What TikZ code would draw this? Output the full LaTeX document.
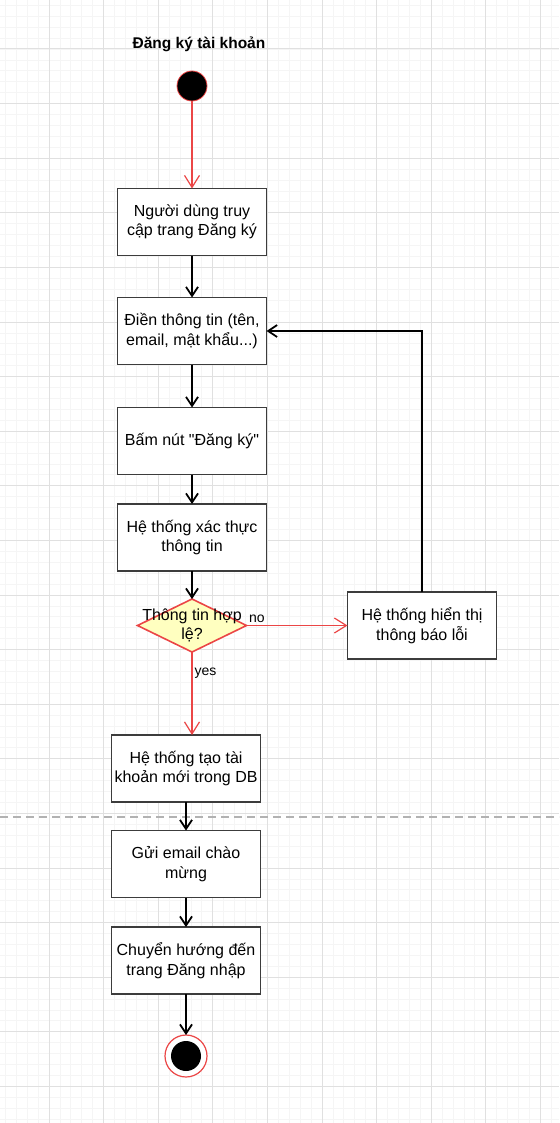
\documentclass[tikz,border=0pt]{standalone}
\usepackage{fontspec}
\setmainfont{Liberation Sans}
\font\quotefont="Liberation Sans" at 16pt
\usepackage{tikz}
\usetikzlibrary{arrows.meta,positioning,shapes.geometric}
\definecolor{edgered}{RGB}{235,70,70}
\definecolor{decfill}{RGB}{255,255,192}
\definecolor{boxline}{RGB}{60,60,60}

\begin{document}
\begin{tikzpicture}[
	x=1pt, y=-1pt,
	font=\fontsize{16}{19.5}\selectfont,
	block/.style={draw=boxline, line width=1.8pt, fill=white, align=center, minimum width=149pt, minimum height=67pt, inner sep=2pt, outer sep=0pt},
	decision/.style={diamond, draw=edgered, line width=1.6pt, fill=decfill, minimum width=109pt, minimum height=53pt, inner sep=0pt, outer sep=0pt},
	startnode/.style={circle, fill=black, draw=edgered, line width=0.8pt, minimum size=30pt, inner sep=0pt, outer sep=0pt},
	endnode/.style={circle, draw=edgered, line width=1.2pt, fill=white, minimum size=42pt, inner sep=0pt, outer sep=0pt, path picture={\fill[black] (path picture bounding box.center) circle (15pt);}},
	arr/.style={-{Straight Barb[length=9pt, width=12pt]}, line width=1.8pt, black},
	rarr/.style={-{Straight Barb[length=12pt, width=15pt]}, line width=1.2pt, edgered},
	lbl/.style={font=\fontsize{14}{16}\selectfont, text=black, inner sep=2pt},
	minorgrid/.style={black!4, line width=0.8pt},
	majorgrid/.style={black!12, line width=1pt},
	divider/.style={black!30, line width=1.5pt, dash pattern=on 8pt off 5pt}
	]
	\useasboundingbox (0,0) rectangle (559,1123);
	% background grid
	\begin{scope}
		\clip (0,0) rectangle (559,1123);
		\foreach \k in {0,...,52} \draw[minorgrid] ({-5.6+10.92*\k},0) -- ({-5.6+10.92*\k},1123);
		\foreach \k in {0,...,103} \draw[minorgrid] (0,{-5.6+10.92*\k}) -- (559,{-5.6+10.92*\k});
		\foreach \k in {0,...,10} \draw[majorgrid] ({-5.6+54.6*\k},0) -- ({-5.6+54.6*\k},1123);
		\foreach \k in {0,...,20} \draw[majorgrid] (0,{-5.6+54.6*\k}) -- (559,{-5.6+54.6*\k});
	\end{scope}
	\draw[divider] (0,817) -- (559,817);

	\node[font=\bfseries\fontsize{15.5}{18}\selectfont] (title) at (199,44) {Đăng ký tài khoản};
	\node[startnode] (start) at (192,86) {};
	\node[block, below=87.5pt of start] (open) {Người dùng truy\\cập trang Đăng ký};
	\node[block, below=42pt of open] (fill) {Điền thông tin (tên,\\email, mật khẩu...)};
	\node[block, below=43pt of fill] (click) {Bấm nút {\quotefont"}Đăng ký{\quotefont"}};
	\node[block, below=29.5pt of click] (check) {Hệ thống xác thực\\thông tin};
	\node[decision, below=28pt of check, label={[align=center]center:Thông tin hợp\\lệ?}] (valid) {};
	\node[block, right=101pt of valid] (err) {Hệ thống hiển thị\\thông báo lỗi};
	\node[block, below=83pt of valid, xshift=-6pt] (create) {Hệ thống tạo tài\\khoản mới trong DB};
	\node[block, below=28.5pt of create] (mail) {Gửi email chào\\mừng};
	\node[block, below=29.5pt of mail] (redir) {Chuyển hướng đến\\trang Đăng nhập};
	\node[endnode, below=41pt of redir] (stop) {};

	\draw[rarr] (start) -- (open);
	\draw[arr] (open) -- (fill);
	\draw[arr] (fill) -- (click);
	\draw[arr] (click) -- (check);
	\draw[arr] (check) -- (valid);
	\draw[rarr] (valid) -- node[lbl, pos=0, above right] {no} (err);
	\draw[arr] (err) |- (fill);
	\draw[rarr] (valid) -- node[lbl, pos=0.25, right] {yes} (valid |- create.north);
	\draw[arr] (create) -- (mail);
	\draw[arr] (mail) -- (redir);
	\draw[arr] (redir) -- (stop);
\end{tikzpicture}
\end{document}
